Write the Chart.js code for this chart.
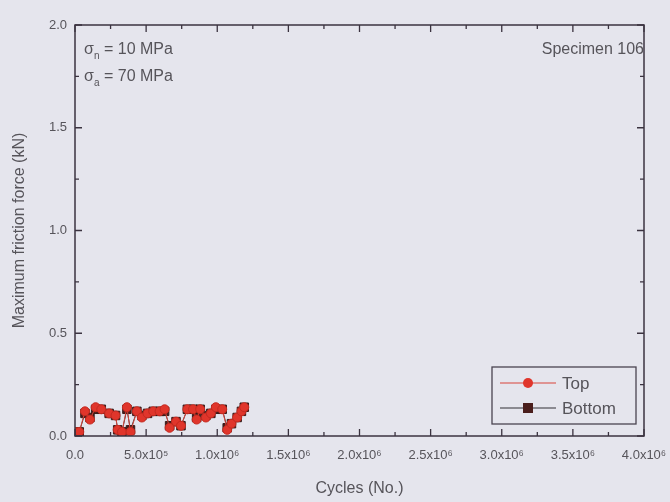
<!DOCTYPE html>
<html>
<head>
<meta charset="utf-8">
<script src="https://cdn.jsdelivr.net/npm/chart.js@4/dist/chart.umd.min.js"></script>
<style>
  html, body { margin: 0; padding: 0; background: #e5e5ed; overflow: hidden; }
  #wrap { width: 670px; height: 502px; position: relative; }
</style>
</head>
<body>
<div id="wrap"><canvas id="c" width="670" height="502"></canvas></div>
<script>
// ---- data ----
const cycles = [0, 3.0e4, 7.0e4, 1.05e5, 1.45e5, 1.85e5, 2.4e5, 2.85e5, 3.0e5, 3.3e5, 3.65e5, 3.9e5,
  4.35e5, 4.7e5, 5.1e5, 5.5e5, 5.95e5, 6.3e5, 6.65e5, 7.1e5, 7.45e5, 7.9e5, 8.3e5, 8.55e5,
  8.8e5, 9.2e5, 9.55e5, 9.9e5, 1.035e6, 1.07e6, 1.1e6, 1.14e6, 1.17e6, 1.19e6];
const topForce = [0.02, 0.02, 0.12, 0.08, 0.14, 0.13, 0.11, 0.10, 0.03, 0.02, 0.14, 0.02,
  0.12, 0.09, 0.11, 0.12, 0.12, 0.13, 0.04, 0.07, 0.05, 0.13, 0.13, 0.08,
  0.13, 0.09, 0.11, 0.14, 0.13, 0.03, 0.06, 0.09, 0.12, 0.14];
const bottomForce = [0.02, 0.02, 0.11, 0.09, 0.13, 0.13, 0.11, 0.10, 0.03, 0.02, 0.13, 0.03,
  0.12, 0.10, 0.11, 0.12, 0.12, 0.12, 0.05, 0.07, 0.05, 0.13, 0.13, 0.09,
  0.13, 0.10, 0.11, 0.13, 0.13, 0.04, 0.06, 0.09, 0.12, 0.14];
const xTickValues = [0, 5e5, 1e6, 1.5e6, 2e6, 2.5e6, 3e6, 3.5e6, 4e6];
const xTickLabels = ["0.0", "5.0x10\u2075", "1.0x10\u2076", "1.5x10\u2076", "2.0x10\u2076", "2.5x10\u2076", "3.0x10\u2076", "3.5x10\u2076", "4.0x10\u2076"];
const yTickLabels = ["0.0", "0.5", "1.0", "1.5", "2.0"];
const seriesNames = ["Top", "Bottom"];

const TEXT = "#56545a";
const FRAME = "#3b3340";
const FONT = "'Liberation Sans', Arial, sans-serif";

const toPts = (ys) => cycles.map((x, i) => ({ x: x, y: ys[i] }));

const framePlugin = {
  id: 'frame',
  afterDatasetsDraw(chart) {
    const ctx = chart.ctx, a = chart.chartArea;
    const xs = chart.scales.x, ys = chart.scales.y;
    ctx.save();
    ctx.strokeStyle = FRAME;
    ctx.lineWidth = 1.5;
    ctx.strokeRect(a.left, a.top, a.right - a.left, a.bottom - a.top);
    ctx.lineWidth = 1.3;
    for (let v = 0; v <= 4e6; v += 2.5e5) {
      const px = xs.getPixelForValue(v);
      const len = (v % 5e5 === 0) ? 7 : 4;
      ctx.beginPath();
      ctx.moveTo(px, a.bottom); ctx.lineTo(px, a.bottom - len);
      ctx.moveTo(px, a.top); ctx.lineTo(px, a.top + len);
      ctx.stroke();
    }
    for (let v = 0; v <= 2.0001; v += 0.25) {
      const py = ys.getPixelForValue(v);
      const len = (Math.abs(v / 0.5 - Math.round(v / 0.5)) < 1e-6) ? 7 : 4;
      ctx.beginPath();
      ctx.moveTo(a.left, py); ctx.lineTo(a.left + len, py);
      ctx.moveTo(a.right, py); ctx.lineTo(a.right - len, py);
      ctx.stroke();
    }
    // annotations
    ctx.fillStyle = TEXT;
    ctx.textBaseline = 'alphabetic';
    const drawSigma = (sub, rest, x, y) => {
      ctx.font = "16px " + FONT;
      ctx.textAlign = 'left';
      ctx.fillText("\u03C3", x, y);
      ctx.font = "10px " + FONT;
      ctx.fillText(sub, x + 10, y + 5);
      ctx.font = "16px " + FONT;
      ctx.fillText("= " + rest, x + 20, y);
    };
    drawSigma("n", "10 MPa", a.left + 9, a.top + 29);
    drawSigma("a", "70 MPa", a.left + 9, a.top + 56);
    ctx.font = "16px " + FONT;
    ctx.textAlign = 'right';
    ctx.fillText("Specimen 106", a.right, a.top + 29);
    // legend
    const lx = 492, ly = 367, lw = 144, lh = 57;
    ctx.fillStyle = "#e5e5ed";
    ctx.fillRect(lx, ly, lw, lh);
    ctx.strokeStyle = "#4a4450";
    ctx.lineWidth = 1.3;
    ctx.strokeRect(lx, ly, lw, lh);
    chart.data.datasets.forEach((ds, i) => {
      const yy = ly + 16 + i * 25;
      ctx.strokeStyle = ds.borderColor;
      ctx.lineWidth = 1.2;
      ctx.beginPath(); ctx.moveTo(lx + 8, yy); ctx.lineTo(lx + 64, yy); ctx.stroke();
      ctx.fillStyle = ds.pointBackgroundColor;
      if (ds.pointStyle === 'circle') {
        ctx.beginPath(); ctx.arc(lx + 36, yy, 5, 0, Math.PI * 2); ctx.fill();
      } else {
        ctx.fillRect(lx + 31, yy - 5, 10, 10);
      }
      ctx.fillStyle = TEXT;
      ctx.font = "17px " + FONT;
      ctx.textAlign = 'left';
      ctx.textBaseline = 'middle';
      ctx.fillText(ds.label, lx + 70, yy + 1);
    });
    ctx.restore();
  }
};

new Chart(document.getElementById('c'), {
  type: 'scatter',
  data: {
    datasets: [
      {
        label: seriesNames[0],
        data: toPts(topForce),
        showLine: true,
        borderColor: '#d9453a',
        borderWidth: 1,
        pointStyle: 'circle',
        pointRadius: 4.5,
        pointBackgroundColor: '#e0352b',
        pointBorderColor: '#c42a20',
        pointBorderWidth: 1,
        order: 1
      },
      {
        label: seriesNames[1],
        data: toPts(bottomForce),
        showLine: true,
        borderColor: '#333036',
        borderWidth: 1,
        pointStyle: 'rect',
        pointRadius: 6,
        pointBackgroundColor: '#4a1e1c',
        pointBorderColor: '#3a1a18',
        order: 2
      }
    ]
  },
  options: {
    responsive: false,
    animation: false,
    events: [],
    layout: { padding: { left: 0, right: 26, top: 25, bottom: 0 } },
    plugins: { legend: { display: false }, tooltip: { enabled: false } },
    scales: {
      x: {
        type: 'linear', min: 0, max: 4e6,
        grid: { display: false, drawTicks: false },
        border: { display: false },
        afterBuildTicks: (s) => { s.ticks = xTickValues.map(v => ({ value: v })); },
        afterFit: (s) => { s.height = 66; s.paddingLeft = 0; s.paddingRight = 0; },
        ticks: {
          color: TEXT, font: { size: 13, family: FONT }, padding: 12, maxRotation: 0, autoSkip: false,
          callback: (v) => xTickLabels[xTickValues.indexOf(v)]
        },
        title: { display: true, text: 'Cycles (No.)', color: TEXT, font: { size: 16, family: FONT }, padding: { top: 8 } }
      },
      y: {
        type: 'linear', min: 0, max: 2.0,
        grid: { display: false, drawTicks: false },
        border: { display: false },
        afterBuildTicks: (s) => { s.ticks = yTickLabels.map(t => ({ value: parseFloat(t) })); },
        afterFit: (s) => { s.width = 75; s.paddingTop = 0; s.paddingBottom = 0; },
        ticks: {
          color: TEXT, font: { size: 13, family: FONT }, padding: 8, autoSkip: false,
          callback: (v) => yTickLabels[yTickLabels.map(parseFloat).indexOf(v)]
        },
        title: { display: true, text: 'Maximum friction force (kN)', color: TEXT, font: { size: 16, family: FONT }, padding: { top: 10, bottom: 4 } }
      }
    }
  },
  plugins: [framePlugin]
});
</script>
</body>
</html>
